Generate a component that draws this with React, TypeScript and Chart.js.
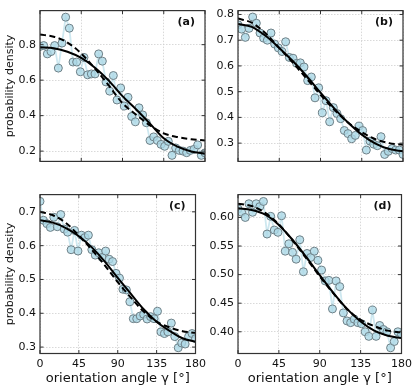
import React, { useEffect, useRef } from "react";
import { Chart, registerables } from "chart.js";

Chart.register(...registerables);

// measured orientation angles (deg)
const ANGLES = [0, 4, 8, 12, 16, 20, 24, 28, 32, 36, 40, 44, 48, 52, 56, 60, 64, 68, 72, 76, 80, 84, 88, 92, 96, 100, 104, 108, 112, 116, 120, 124, 128, 132, 136, 140, 144, 148, 152, 156, 160, 164, 168, 172, 176, 180];
// angles where fitted curves were read
const FIT_ANGLES = [0, 15, 30, 45, 60, 75, 90, 105, 120, 135, 150, 165, 180];
const X_TICKS = [0, 45, 90, 135, 180];

// panel (a)
const A_DATA = [0.79, 0.795, 0.748, 0.761, 0.795, 0.668, 0.809, 0.955, 0.893, 0.702, 0.702, 0.647, 0.728, 0.63, 0.635, 0.635, 0.748, 0.707, 0.59, 0.538, 0.626, 0.488, 0.556, 0.454, 0.503, 0.395, 0.365, 0.444, 0.404, 0.36, 0.26, 0.28, 0.26, 0.238, 0.227, 0.255, 0.176, 0.218, 0.204, 0.2, 0.191, 0.204, 0.21, 0.235, 0.176, 0.19];
const A_SOLID = [0.786, 0.78, 0.76, 0.725, 0.67, 0.597, 0.51, 0.435, 0.355, 0.272, 0.225, 0.198, 0.185];
const A_DASHED = [0.857, 0.845, 0.812, 0.75, 0.665, 0.57, 0.47, 0.405, 0.345, 0.3, 0.279, 0.267, 0.26];

// panel (b)
const B_DATA = [0.76, 0.743, 0.711, 0.746, 0.79, 0.766, 0.728, 0.708, 0.7, 0.728, 0.685, 0.67, 0.656, 0.694, 0.633, 0.63, 0.61, 0.612, 0.596, 0.543, 0.557, 0.476, 0.515, 0.418, 0.465, 0.383, 0.438, 0.415, 0.395, 0.349, 0.337, 0.317, 0.33, 0.366, 0.349, 0.273, 0.308, 0.296, 0.29, 0.325, 0.256, 0.268, 0.279, 0.273, 0.273, 0.256];
const B_SOLID = [0.763, 0.752, 0.717, 0.67, 0.618, 0.56, 0.496, 0.435, 0.38, 0.333, 0.298, 0.277, 0.268];
const B_DASHED = [0.784, 0.768, 0.727, 0.67, 0.612, 0.55, 0.488, 0.43, 0.38, 0.343, 0.315, 0.3, 0.294];

// panel (c)
const C_DATA = [0.731, 0.675, 0.665, 0.654, 0.684, 0.656, 0.692, 0.649, 0.64, 0.588, 0.645, 0.584, 0.631, 0.624, 0.631, 0.588, 0.572, 0.579, 0.565, 0.584, 0.56, 0.553, 0.518, 0.504, 0.471, 0.469, 0.434, 0.384, 0.384, 0.392, 0.397, 0.383, 0.39, 0.384, 0.406, 0.345, 0.34, 0.345, 0.371, 0.331, 0.298, 0.312, 0.309, 0.331, 0.34, 0.325];
const C_SOLID = [0.675, 0.668, 0.652, 0.628, 0.595, 0.553, 0.505, 0.458, 0.412, 0.375, 0.348, 0.326, 0.316];
const C_DASHED = [0.7, 0.69, 0.667, 0.63, 0.588, 0.542, 0.492, 0.447, 0.405, 0.375, 0.358, 0.347, 0.342];

// panel (d)
const D_DATA = [0.615, 0.609, 0.6, 0.624, 0.609, 0.624, 0.619, 0.628, 0.571, 0.602, 0.578, 0.574, 0.603, 0.541, 0.554, 0.539, 0.527, 0.561, 0.505, 0.537, 0.53, 0.541, 0.525, 0.508, 0.489, 0.49, 0.44, 0.489, 0.479, 0.433, 0.419, 0.416, 0.422, 0.416, 0.414, 0.4, 0.392, 0.438, 0.392, 0.411, 0.404, 0.4, 0.372, 0.383, 0.4, 0.395];
const D_SOLID = [0.616, 0.613, 0.605, 0.587, 0.561, 0.531, 0.499, 0.468, 0.44, 0.418, 0.402, 0.393, 0.389];
const D_DASHED = [0.624, 0.62, 0.608, 0.588, 0.56, 0.529, 0.497, 0.467, 0.44, 0.421, 0.41, 0.402, 0.399];

const FONT = "'DejaVu Sans', sans-serif";

const framePlugin = {
  id: "frameTicks",
  afterDraw(chart: any) {
    const { ctx, chartArea } = chart;
    const { left, right, top, bottom } = chartArea;
    const xs = chart.scales.x;
    const ys = chart.scales.y;
    const tl = 3.5;
    ctx.save();
    ctx.strokeStyle = "#333";
    ctx.lineWidth = 1;
    ctx.beginPath();
    xs.ticks.forEach((t: any) => {
      const px = xs.getPixelForValue(t.value);
      ctx.moveTo(px, bottom);
      ctx.lineTo(px, bottom - tl);
      ctx.moveTo(px, top);
      ctx.lineTo(px, top + tl);
    });
    ys.ticks.forEach((t: any) => {
      const py = ys.getPixelForValue(t.value);
      ctx.moveTo(left, py);
      ctx.lineTo(left + tl, py);
      ctx.moveTo(right, py);
      ctx.lineTo(right - tl, py);
    });
    ctx.stroke();
    ctx.lineWidth = 1.2;
    ctx.strokeRect(left, top, right - left, bottom - top);
    const label = chart.options.plugins.panelLabel?.text;
    if (label) {
      ctx.fillStyle = "#111";
      ctx.font = `bold 11px ${FONT}`;
      ctx.textAlign = "right";
      ctx.textBaseline = "middle";
      ctx.fillText(label, right - 10, top + 12);
    }
    ctx.restore();
  },
};

type PanelProps = {
  left: number;
  top: number;
  width: number;
  height: number;
  values: number[];
  solid: number[];
  dashed: number[];
  yMin: number;
  yMax: number;
  step: number;
  decimals: number;
  label: string;
  bottomRow: boolean;
  yTitle: boolean;
};

function Panel(p: PanelProps) {
  const ref = useRef<HTMLCanvasElement>(null);
  useEffect(() => {
    if (!ref.current) return;
    const chart = new Chart(ref.current, {
      type: "line",
      data: {
        datasets: [
          {
            data: FIT_ANGLES.map((x, i) => ({ x, y: p.solid[i] })),
            borderColor: "#000",
            borderWidth: 2,
            pointRadius: 0,
            cubicInterpolationMode: "monotone",
            fill: false,
          },
          {
            data: FIT_ANGLES.map((x, i) => ({ x, y: p.dashed[i] })),
            borderColor: "#000",
            borderWidth: 2,
            borderDash: [6, 3.5],
            pointRadius: 0,
            cubicInterpolationMode: "monotone",
            fill: false,
          },
          {
            data: ANGLES.map((x, i) => ({ x, y: p.values[i] })),
            borderColor: "rgba(173,216,230,0.6)",
            borderWidth: 1.8,
            pointRadius: 4,
            pointBackgroundColor: "rgba(173,216,230,0.8)",
            pointBorderColor: "#6e8087",
            pointBorderWidth: 1,
            tension: 0,
            fill: false,
          },
        ],
      } as any,
      options: {
        animation: false,
        responsive: false,
        events: [],
        layout: {
          padding: p.bottomRow
            ? { top: 2, right: p.width - 206, bottom: 0, left: 0 }
            : { top: 1, right: p.width - 206, bottom: 2.5, left: 0 },
        },
        plugins: {
          legend: { display: false },
          tooltip: { enabled: false },
          panelLabel: { text: p.label },
        } as any,
        scales: {
          x: {
            type: "linear",
            min: 0,
            max: 180,
            afterBuildTicks: (s: any) => {
              s.ticks = X_TICKS.map((v) => ({ value: v }));
            },
            grid: { color: "#cfcfcf", lineWidth: 0.8, drawTicks: false },
            border: { display: false, dash: [1.5, 1.5] },
            ticks: {
              display: p.bottomRow,
              font: { family: FONT, size: 11 },
              color: "#111",
              padding: 4,
              maxRotation: 0,
            },
            title: {
              display: p.bottomRow,
              text: "orientation angle γ [°]",
              font: { family: FONT, size: 13 },
              color: "#111",
              padding: { top: 0, bottom: 3.5 },
            },
            afterFit: (s: any) => {
              s.height = p.bottomRow ? 36.5 : 0;
            },
          },
          y: {
            type: "linear",
            min: p.yMin,
            max: p.yMax,
            grid: { color: "#cfcfcf", lineWidth: 0.8, drawTicks: false },
            border: { display: false, dash: [1.5, 1.5] },
            ticks: {
              stepSize: p.step,
              includeBounds: false,
              font: { family: FONT, size: 11 },
              color: "#111",
              padding: 4,
              callback: (v: any) => Number(v).toFixed(p.decimals),
            },
            title: {
              display: p.yTitle,
              text: "probability density",
              font: { family: FONT, size: 11 },
              color: "#111",
              padding: { top: 4, bottom: 0 },
            },
            afterFit: (s: any) => {
              s.width = 40;
            },
          },
        },
      } as any,
      plugins: [framePlugin],
    });
    return () => chart.destroy();
  }, []);
  return (
    <canvas
      ref={ref}
      width={p.width}
      height={p.height}
      style={{ position: "absolute", left: p.left, top: p.top, width: p.width, height: p.height }}
    />
  );
}

export default function App() {
  return (
    <div style={{ position: "absolute", left: 0, top: 0, width: 416, height: 390, background: "#fff", overflow: "hidden" }}>
      <Panel left={0} top={0} width={210} height={172} values={A_DATA} solid={A_SOLID} dashed={A_DASHED}
        yMin={0.142} yMax={0.992} step={0.2} decimals={1} label="(a)" bottomRow={false} yTitle={true} />
      <Panel left={198} top={0} width={210} height={172} values={B_DATA} solid={B_SOLID} dashed={B_DASHED}
        yMin={0.229} yMax={0.815} step={0.1} decimals={1} label="(b)" bottomRow={false} yTitle={false} />
      <Panel left={0} top={184} width={210} height={206} values={C_DATA} solid={C_SOLID} dashed={C_DASHED}
        yMin={0.281} yMax={0.751} step={0.1} decimals={1} label="(c)" bottomRow={true} yTitle={true} />
      <Panel left={198} top={184} width={218} height={206} values={D_DATA} solid={D_SOLID} dashed={D_DASHED}
        yMin={0.362} yMax={0.64} step={0.05} decimals={2} label="(d)" bottomRow={true} yTitle={false} />
    </div>
  );
}
